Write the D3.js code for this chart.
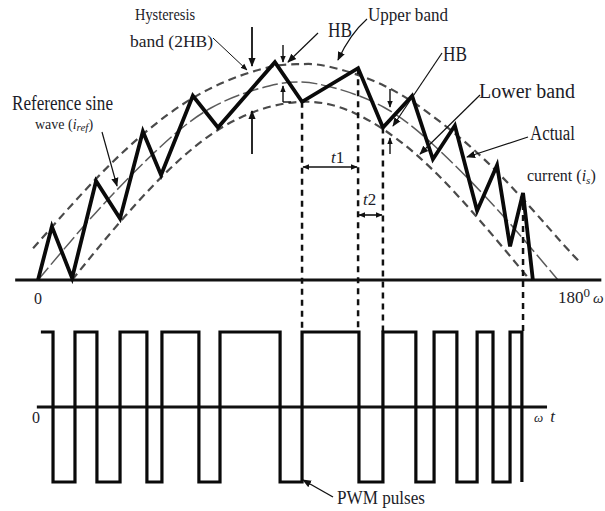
<!DOCTYPE html>
<html><head><meta charset="utf-8">
<script src="https://cdn.jsdelivr.net/npm/d3@7"></script>
<style>
body{margin:0;background:#fff}
text{font-family:"Liberation Serif","Times New Roman",serif;fill:#1c1c28}
</style>
</head><body><script>
// ---- data (angle in degrees, current in p.u. of reference peak) ----
const refSine = [[0,0],[20,0.34],[40,0.64],[60,0.87],[80,0.98],[90,1.0],[100,0.98],[120,0.87],[140,0.64],[160,0.34],[180,0]];
const upperBand = [[-1.7,0.16],[20,0.51],[40,0.78],[60,0.97],[80,1.075],[90.7,1.09],[100,1.08],[120,0.98],[140,0.79],[160,0.53],[180,0.21],[187.6,0.09]];
const lowerBand = [[11.8,0],[30,0.32],[50,0.62],[70,0.82],[91,0.9],[110,0.84],[130,0.645],[150,0.35],[170.3,0]];
const actualCurrent = [[0,0],[4.8,0.27],[11.8,0.01],[20.1,0.5],[28.4,0.31],[36.3,0.75],[42.6,0.53],[53.6,0.93],[62.3,0.77],[82,1.1],[91.4,0.9],[110.8,1.07],[119.4,0.77],[129.5,0.93],[136.7,0.61],[144.3,0.78],[152,0.35],[158.9,0.58],[163.4,0.17],[167.9,0.44],[171.3,0]];
const pwmStart = 1.0;
const pwmSwitch = [5.2,12.8,20.4,28.4,37.7,42.9,55.7,63.0,83.8,91.4,111.1,119.4,130.8,137.1,145.0,152.0,157.5,163.4,167.5];
const markedInstants = [[91.4,0.9],[110.8,1.07],[119.4,0.77],[167.9,0.44]];
const tickLabels = ["0","180"];

const W = 605, H = 511;
const svg = d3.select('body').append('svg').attr('width',W).attr('height',H);
svg.append('rect').attr('width',W).attr('height',H).attr('fill','#fff');

const x = d3.scaleLinear().domain([0,180]).range([38,558]);
const y = d3.scaleLinear().domain([0,1]).range([280,82]);
const yP = d3.scaleLinear().domain([-1,1]).range([482,332]);

const defs = svg.append('defs');
defs.append('marker').attr('id','ah').attr('viewBox','0 0 10 10')
  .attr('refX',9).attr('refY',5).attr('markerWidth',9).attr('markerHeight',9)
  .attr('markerUnits','userSpaceOnUse').attr('orient','auto-start-reverse')
  .append('path').attr('d','M0,1 L10,5 L0,9 Z').attr('fill','#111');
defs.append('marker').attr('id','ahs').attr('viewBox','0 0 10 10')
  .attr('refX',9).attr('refY',5).attr('markerWidth',7).attr('markerHeight',7)
  .attr('markerUnits','userSpaceOnUse').attr('orient','auto-start-reverse')
  .append('path').attr('d','M0,1 L10,5 L0,9 Z').attr('fill','#111');

const line = d3.line().x(d=>x(d[0])).y(d=>y(d[1]));
const smooth = d3.line().x(d=>x(d[0])).y(d=>y(d[1])).curve(d3.curveNatural);

// bands and reference
svg.append('path').attr('d',smooth(upperBand)).attr('fill','none').attr('stroke','#4a4a4a').attr('stroke-width',2.2).attr('stroke-dasharray','8,5');
svg.append('path').attr('d',smooth(lowerBand)).attr('fill','none').attr('stroke','#4a4a4a').attr('stroke-width',2.2).attr('stroke-dasharray','8,5');
svg.append('path').attr('d',smooth(refSine)).attr('fill','none').attr('stroke','#5a5a5a').attr('stroke-width',1.5).attr('stroke-dasharray','16,4');

// projection dashed lines
svg.selectAll('line.proj').data(markedInstants).enter().append('line')
  .attr('x1',d=>x(d[0])).attr('x2',d=>x(d[0])).attr('y1',d=>y(d[1])).attr('y2',yP(1))
  .attr('stroke','#111').attr('stroke-width',2.5).attr('stroke-dasharray','6,5');

// upper axis
svg.append('line').attr('x1',x(-7.9)).attr('x2',x(195)).attr('y1',y(0)).attr('y2',y(0))
  .attr('stroke','#111').attr('stroke-width',3);

// actual current
svg.append('path').attr('d',line(actualCurrent)).attr('fill','none').attr('stroke','#0a0a0a')
  .attr('stroke-width',3.8).attr('stroke-linejoin','miter');

// PWM
const pwmPts = [[pwmStart,1]];
let lvl = 1;
pwmSwitch.forEach(s=>{ pwmPts.push([s,lvl]); lvl=-lvl; pwmPts.push([s,lvl]); });
const pline = d3.line().x(d=>x(d[0])).y(d=>yP(d[1]));
svg.append('line').attr('x1',x(-0.4)).attr('x2',x(176.2)).attr('y1',yP(0)).attr('y2',yP(0))
  .attr('stroke','#111').attr('stroke-width',3);
svg.append('path').attr('d',pline(pwmPts)).attr('fill','none').attr('stroke','#0a0a0a').attr('stroke-width',3.2);

// tick labels
svg.append('text').attr('x',x(0)).attr('y',304).attr('font-size',16).attr('text-anchor','middle').text(tickLabels[0]);
svg.append('text').attr('x',36).attr('y',423).attr('font-size',16).attr('text-anchor','middle').text(tickLabels[0]);
const t180 = svg.append('text').attr('x',558).attr('y',303).attr('font-size',17);
t180.append('tspan').text(tickLabels[1]);
t180.append('tspan').attr('dy',-6).attr('font-size',13).text('0');
t180.append('tspan').attr('dy',6).attr('dx',3).attr('font-style','italic').attr('font-size',15).text('ω');
const wt = svg.append('text').attr('x',534).attr('y',422).attr('font-size',13).attr('font-style','italic');
wt.append('tspan').text('ω');
wt.append('tspan').attr('dx',7).attr('font-size',17).text('t');

// annotation helper
function arrow(x1,y1,x2,y2,w,m,both){
  const l = svg.append('line').attr('x1',x1).attr('y1',y1).attr('x2',x2).attr('y2',y2)
    .attr('stroke','#111').attr('stroke-width',w).attr('marker-end',`url(#${m})`);
  if(both) l.attr('marker-start',`url(#${m})`);
}
function label(txt,xx,yy,size,len){
  const t = svg.append('text').attr('x',xx).attr('y',yy).attr('font-size',size).text(txt);
  if(len) t.attr('textLength',len).attr('lengthAdjust','spacingAndGlyphs');
  return t;
}

label('Hysteresis',135,20,17,60);
label('band (2HB)',130,47,17,83);
label('Reference sine',12,110,21,101);
const wv = svg.append('text').attr('x',35).attr('y',129).attr('font-size',14);
wv.append('tspan').text('wave (');
wv.append('tspan').attr('font-style','italic').text('i');
wv.append('tspan').attr('font-style','italic').attr('font-size',11).attr('dy',2).text('ref');
wv.append('tspan').attr('dy',-2).text(')');
label('HB',328,37,21,24);
label('Upper band',368,21,19,80);
label('HB',443,61,21,24);
label('Lower band',479,98,20,96);
label('Actual',530,140,20,45);
const cu = svg.append('text').attr('x',527).attr('y',181).attr('font-size',16);
cu.append('tspan').text('current (');
cu.append('tspan').attr('font-style','italic').text('i');
cu.append('tspan').attr('font-style','italic').attr('font-size',11).attr('dy',3).text('s');
cu.append('tspan').attr('dy',-3).text(')');
label('PWM pulses',337,504,19,88);

// t1, t2
const tm = markedInstants;
arrow(x(tm[0][0])+1,167,x(tm[1][0])-1,167,1.6,'ahs',true);
arrow(x(tm[1][0])+1,215,x(tm[2][0])-1,215,1.6,'ahs',true);
const t1 = svg.append('text').attr('x',331).attr('y',163).attr('font-size',17);
t1.append('tspan').attr('font-style','italic').text('t');
t1.append('tspan').text('1');
const t2 = svg.append('text').attr('x',363).attr('y',205).attr('font-size',17);
t2.append('tspan').attr('font-style','italic').text('t');
t2.append('tspan').text('2');

// 2HB arrows
arrow(252,27,252,66,1.8,'ah');
arrow(252,154,252,111,1.8,'ah');
arrow(213,38,247,70,1,'ahs');
// reference pointer
arrow(102,132,117,186,1.2,'ah');
// HB1 small arrows
arrow(283,45,283,62,1.4,'ahs');
arrow(283,102,283,86,1.4,'ahs');
svg.append('line').attr('x1',283).attr('x2',291).attr('y1',102).attr('y2',102).attr('stroke','#111').attr('stroke-width',1.4);
arrow(318,33,288,62,1.2,'ah');
// upper band pointer (slightly curved)
svg.append('path').attr('d','M367,19 Q350,34 338,60').attr('fill','none').attr('stroke','#111').attr('stroke-width',1.2).attr('marker-end','url(#ah)');
// HB2
arrow(442,53,393,126,1.2,'ah');
arrow(390,89,390,107,1.4,'ahs');
arrow(390,154,390,138,1.4,'ahs');
// lower band
arrow(480,95,420,154,1.2,'ah');
// actual current
arrow(528,137,467,157,1.2,'ah');
// PWM pointer
arrow(333,497,303,480,1.4,'ah');
</script></body></html>
